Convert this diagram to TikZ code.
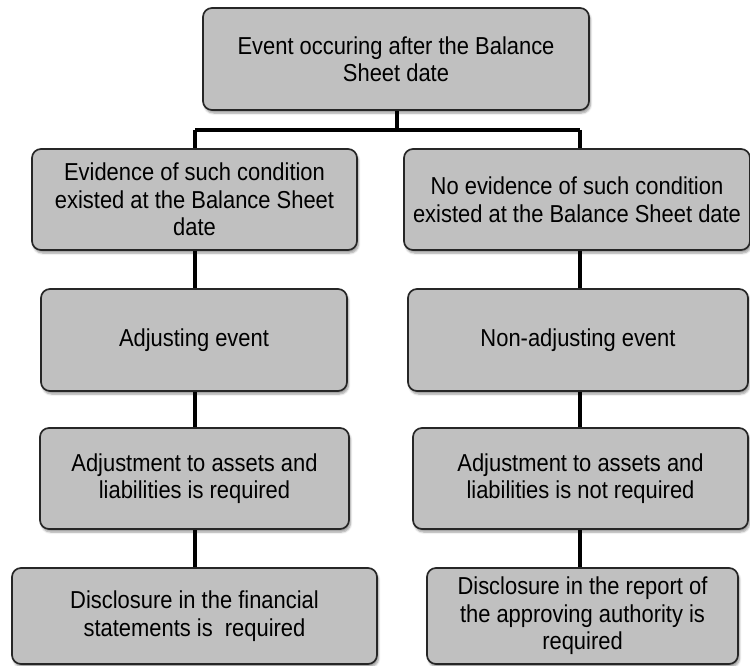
\documentclass[tikz,border=0pt]{standalone}
\usepackage{fontspec}
\setmainfont{Liberation Sans}[FakeStretch=0.895]
\usetikzlibrary{shadows.blur,backgrounds}
\definecolor{boxfill}{HTML}{C0C0C0}
\definecolor{boxline}{HTML}{262626}
\tikzset{
  flowbox/.style={
    rectangle, rounded corners=9pt, draw=boxline, line width=1.7pt,
    fill=boxfill, align=center, inner sep=2pt,
    font=\fontsize{24.5}{27.5}\selectfont,
    blur shadow={shadow xshift=1.5pt, shadow yshift=-3pt,
                 shadow blur steps=6, shadow opacity=40}
  },
  link/.style={line width=4pt, draw=black}
}
\begin{document}
\begin{tikzpicture}[x=1pt, y=1pt]
\useasboundingbox (0,0) rectangle (750,-666);

% root
\node[flowbox, minimum width=386pt, minimum height=102pt] (top) at (396,-59)
  {Event occuring after the Balance\\Sheet date};

% left column
\node[flowbox, minimum width=325pt, minimum height=101pt] (l1) at (194.5,-199.5)
  {Evidence of such condition\\existed at the Balance Sheet\\date};
\node[flowbox, minimum width=306pt, minimum height=102pt] (l2) at (194,-340)
  {Adjusting event};
\node[flowbox, minimum width=309pt, minimum height=101pt] (l3) at (194.5,-478.5)
  {Adjustment to assets and\\liabilities is required};
\node[flowbox, minimum width=365pt, minimum height=96pt] (l4) at (194.5,-616)
  {Disclosure in the financial\\statements is\ \ required};

% right column
\node[flowbox, minimum width=346pt, minimum height=101pt] (r1) at (577,-199.5)
  {No evidence of such condition\\existed at the Balance Sheet date};
\node[flowbox, minimum width=340pt, minimum height=102pt] (r2) at (578,-340)
  {Non-adjusting event};
\node[flowbox, minimum width=335pt, minimum height=101pt] (r3) at (580.5,-478.5)
  {Adjustment to assets and\\liabilities is not required};
\node[flowbox, minimum width=311pt, minimum height=96pt] (r4) at (582.5,-616)
  {Disclosure in the report of\\the approving authority is\\required};

% column axes and branch point
\coordinate (cl) at (195,0);
\coordinate (cr) at (580,0);
\coordinate (split) at (397,-130);

\begin{scope}[on background layer]
  \draw[link] (top.south -| split) -- (split);
  \draw[link] (cl |- split) -- (cr |- split);
  \draw[link] (cl |- split) -- (l1.north -| cl);
  \draw[link] (cr |- split) -- (r1.north -| cr);
  \draw[link] (l1.south -| cl) -- (l2.north -| cl);
  \draw[link] (l2.south -| cl) -- (l3.north -| cl);
  \draw[link] (l3.south -| cl) -- (l4.north -| cl);
  \draw[link] (r1.south -| cr) -- (r2.north -| cr);
  \draw[link] (r2.south -| cr) -- (r3.north -| cr);
  \draw[link] (r3.south -| cr) -- (r4.north -| cr);
\end{scope}
\end{tikzpicture}
\end{document}
